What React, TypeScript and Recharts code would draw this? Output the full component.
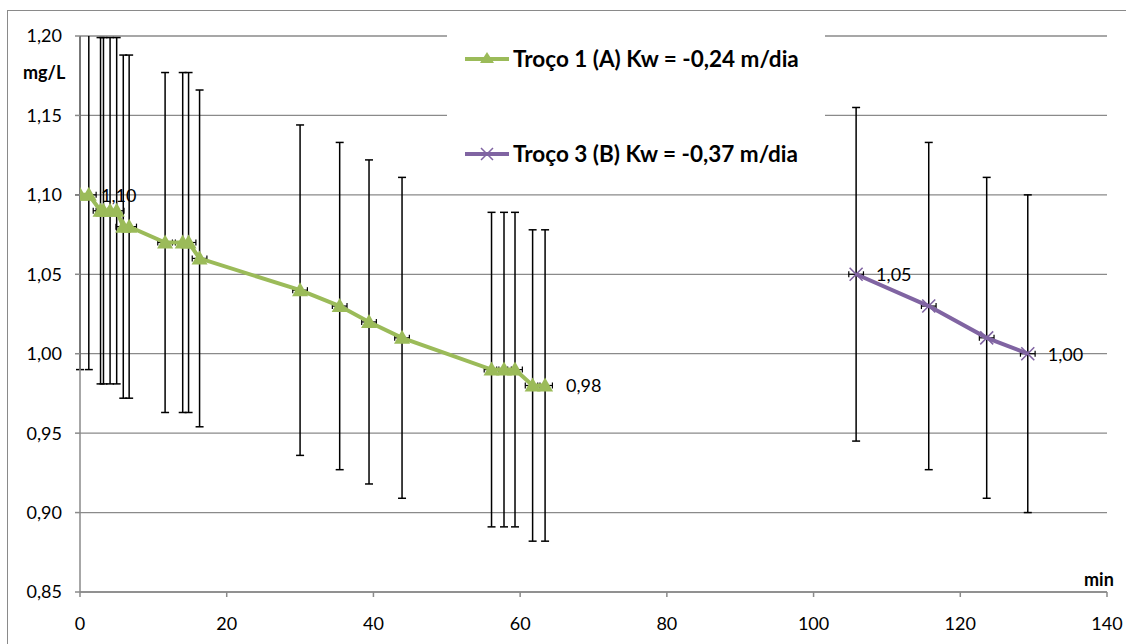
import {
  ComposedChart, Scatter, XAxis, YAxis, CartesianGrid, ErrorBar, Legend,
} from "recharts";

const seriesNames = ["Troço 1 (A) Kw = -0,24 m/dia", "Troço 3 (B) Kw = -0,37 m/dia"];
const seriesColors = ["#9BBB59", "#8064A2"];

// Troço 1 (A)
const t1Min = [0, 1.2, 2.8, 3.2, 4.1, 5.0, 5.9, 6.7, 11.6, 14.0, 14.8, 16.3, 30.0, 35.4, 39.4, 43.9, 56.1, 57.8, 59.3, 61.7, 63.4];
const t1Conc = [1.10, 1.10, 1.09, 1.09, 1.09, 1.09, 1.08, 1.08, 1.07, 1.07, 1.07, 1.06, 1.04, 1.03, 1.02, 1.01, 0.99, 0.99, 0.99, 0.98, 0.98];
const t1ErrY = [0.110, 0.110, 0.109, 0.109, 0.109, 0.109, 0.108, 0.108, 0.107, 0.107, 0.107, 0.106, 0.104, 0.103, 0.102, 0.101, 0.099, 0.099, 0.099, 0.098, 0.098];
const t1ErrX = [1, 1, 1, 1, 1, 1, 1, 1, 1, 1, 1, 1, 1, 1, 1, 1, 1, 1, 1, 1, 1];

// Troço 3 (B)
const t3Min = [105.8, 115.7, 123.6, 129.2];
const t3Conc = [1.05, 1.03, 1.01, 1.00];
const t3ErrY = [0.105, 0.103, 0.101, 0.100];
const t3ErrX = [1, 1, 1, 1];

const xTicks = [0, 20, 40, 60, 80, 100, 120, 140];
const yTicks = [0.85, 0.9, 0.95, 1.0, 1.05, 1.1, 1.15, 1.2];

const fmt = (v: number) => v.toFixed(2).replace(".", ",");

const build = (xs: number[], ys: number[], ey: number[], ex: number[]) =>
  xs.map((x, i) => ({
    x, y: ys[i], ey: ey[i], ex: ex[i],
    label: i === 0 || i === xs.length - 1 ? fmt(ys[i]) : null,
  }));

const t1 = build(t1Min, t1Conc, t1ErrY, t1ErrX);
const t3 = build(t3Min, t3Conc, t3ErrY, t3ErrX);

const FONT = "Lato, 'Open Sans', sans-serif";

function Triangle(props: any) {
  const { cx, cy, payload } = props;
  return (
    <g>
      <polygon points={`${cx},${cy - 8} ${cx - 8},${cy + 6} ${cx + 8},${cy + 6}`} fill={seriesColors[0]} />
      {payload.label && (
        <text x={cx + 21} y={cy} dominantBaseline="central" fontSize={18} fill="#000" fontFamily={FONT}>{payload.label}</text>
      )}
    </g>
  );
}

function Cross(props: any) {
  const { cx, cy, payload } = props;
  return (
    <g>
      <path d={`M${cx - 6.5},${cy - 6.5}L${cx + 6.5},${cy + 6.5}M${cx - 6.5},${cy + 6.5}L${cx + 6.5},${cy - 6.5}`}
        stroke={seriesColors[1]} strokeWidth={1.6} />
      {payload.label && (
        <text x={cx + 20} y={cy} dominantBaseline="central" fontSize={18} fill="#000" fontFamily={FONT}>{payload.label}</text>
      )}
    </g>
  );
}

function LegendBox() {
  return (
    <div style={{ background: "#fff", width: 378, height: 158, fontFamily: FONT }}>
      {seriesNames.map((name, i) => (
        <div key={name} style={{ position: "absolute", left: 17, top: i === 0 ? 20 : 115, display: "flex", alignItems: "center" }}>
          <svg width={46} height={16}>
            <line x1={1} x2={45} y1={8} y2={8} stroke={seriesColors[i]} strokeWidth={4} />
            {i === 0
              ? <polygon points="23,1 16,12 30,12" fill={seriesColors[0]} />
              : <path d="M17,2L29,14M17,14L29,2" stroke={seriesColors[1]} strokeWidth={1.5} />}
          </svg>
          <span style={{ fontWeight: 700, fontSize: 22.5, color: "#000", marginLeft: 3, whiteSpace: "nowrap" }}>{name}</span>
        </div>
      ))}
    </div>
  );
}

export default function App() {
  return (
    <div style={{ position: "absolute", left: 0, top: 0, width: 1126, height: 644, overflow: "hidden", background: "#fff", fontFamily: FONT }}>
      <style>{`.recharts-errorBars, .recharts-errorBar { clip-path: url(#plotClip); }`}</style>
      <svg width={0} height={0} style={{ position: "absolute" }}>
        <defs>
          <clipPath id="plotClip" clipPathUnits="userSpaceOnUse">
            <rect x={75} y={36} width={1040} height={560} />
          </clipPath>
        </defs>
      </svg>
      <div style={{ position: "absolute", left: 7, top: 10, width: 1200, height: 700, border: "1px solid #8a8a8a" }} />
      <ComposedChart width={1126} height={644} margin={{ top: 36, right: 19, bottom: 22, left: 0 }}>
        <CartesianGrid vertical={false} stroke="#8a8a8a" strokeWidth={1.3} />
        <XAxis type="number" dataKey="x" domain={[0, 140]} ticks={xTicks} height={30} allowDataOverflow
          stroke="#8a8a8a" strokeWidth={1.5} tickSize={5} tickMargin={20}
          tick={{ fill: "#000", fontSize: 18, fontFamily: FONT }} />
        <YAxis type="number" dataKey="y" domain={[0.85, 1.2]} ticks={yTicks} allowDataOverflow width={80}
          stroke="#8a8a8a" strokeWidth={1.5} tickSize={5} tickMargin={13} tickFormatter={fmt}
          tick={{ fill: "#000", fontSize: 18, fontFamily: FONT }} />
        <Legend layout="vertical" align="center" verticalAlign="middle" content={<LegendBox />}
          wrapperStyle={{ left: 447, top: 25, width: 378, height: 158 }} />
        <Scatter name={seriesNames[0]} data={t1} fill={seriesColors[0]} line={{ stroke: seriesColors[0], strokeWidth: 4 }}
          lineType="joint" shape={<Triangle />} isAnimationActive={false}>
          <ErrorBar dataKey="ey" direction="y" width={4} stroke="#000" strokeWidth={1.5} />
          <ErrorBar dataKey="ex" direction="x" width={3} stroke="#000" strokeWidth={1.2} />
        </Scatter>
        <Scatter name={seriesNames[1]} data={t3} fill={seriesColors[1]} line={{ stroke: seriesColors[1], strokeWidth: 4 }}
          lineType="joint" shape={<Cross />} isAnimationActive={false}>
          <ErrorBar dataKey="ey" direction="y" width={4} stroke="#000" strokeWidth={1.5} />
          <ErrorBar dataKey="ex" direction="x" width={3} stroke="#000" strokeWidth={1.2} />
        </Scatter>
      </ComposedChart>
      <div style={{ position: "absolute", left: 23, top: 61, fontWeight: 700, fontSize: 18, color: "#000" }}>mg/L</div>
      <div style={{ position: "absolute", left: 1084, top: 568, fontWeight: 700, fontSize: 18, color: "#000" }}>min</div>
    </div>
  );
}
